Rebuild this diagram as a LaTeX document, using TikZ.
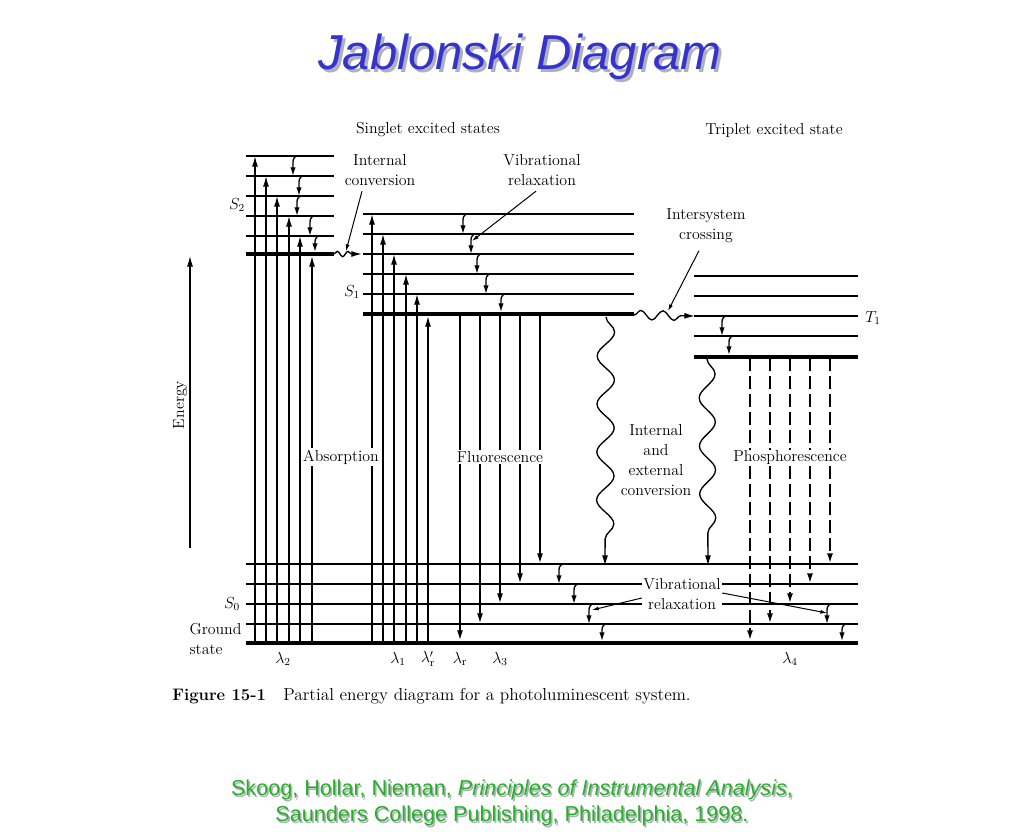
\documentclass[tikz,border=0pt]{standalone}
\usepackage{fontspec}
\usepackage{tikz}
\usetikzlibrary{arrows.meta,decorations.pathmorphing}
\newfontfamily\slidefont{Liberation Sans}
\definecolor{titleblue}{RGB}{52,52,204}
\definecolor{refgreen}{RGB}{38,176,38}
\definecolor{shadowgray}{RGB}{175,175,190}

\begin{document}
\begin{tikzpicture}[x=0.75pt,y=-0.75pt,>={Latex[length=8pt,width=4.5pt]},
    vlevel/.style={line width=1.1pt},
    baselevel/.style={line width=3.4pt},
    absorb/.style={->,line width=1pt},
    fluor/.style={->,line width=1.5pt},
    phos/.style={->,line width=1.6pt,dash pattern=on 9.5pt off 4pt},
    relax/.style={-{Latex[length=6.5pt,width=4pt]},line width=1pt},
    pointer/.style={-{Latex[length=5pt,width=3pt]},line width=0.75pt},
    wave/.style={->,line width=1pt,decorate,decoration={snake,amplitude=#1,segment length=36pt,post length=9pt}},
    txt/.style={font=\fontsize{11.9}{15}\selectfont,inner sep=1pt}]
    \useasboundingbox (0,0) rectangle (1024,834);
    % title and reference
    \node [font=\slidefont\itshape\fontsize{36.8}{40}\selectfont, text=shadowgray] (titleShadow) at (523,60) {Jablonski Diagram};
    \node [font=\slidefont\itshape\fontsize{36.8}{40}\selectfont, text=titleblue] (title) at (520,57) {Jablonski Diagram};
    \node [font=\slidefont\fontsize{16.2}{19.5}\selectfont, text=shadowgray, align=center] (citeShadow) at (513.5,804.5) {Skoog, Hollar, Nieman, \textit{Principles of Instrumental Analysis},\\Saunders College Publishing, Philadelphia, 1998.};
    \node [font=\slidefont\fontsize{16.2}{19.5}\selectfont, text=refgreen, align=center] (cite) at (512,803) {Skoog, Hollar, Nieman, \textit{Principles of Instrumental Analysis},\\Saunders College Publishing, Philadelphia, 1998.};
    % S2 levels
    \foreach \y in {156,176,196,216,236}
        \draw [vlevel] (246,\y) -- (334,\y);
    \draw [baselevel] (246,254) -- (334,254);
    % S1 levels
    \foreach \y in {214,234,254,274,294}
        \draw [vlevel] (363,\y) -- (634,\y);
    \draw [baselevel] (363,314) -- (634,314);
    % T1 levels
    \foreach \y in {276,296,316,336}
        \draw [vlevel] (694,\y) -- (858,\y);
    \draw [baselevel] (694,357) -- (858,357);
    % S0 levels
    \foreach \y in {564,584,604,624}
        \draw [vlevel] (246,\y) -- (858,\y);
    \draw [baselevel] (246,643) -- (858,643);
    %
    \draw [->, line width=0.8pt] (190,548) -- (190,256);
    % absorption
    \foreach \x/\y in {255/156,266/176,277/196,289/216,300/236,312/256,372/214,383/234,394/254,406/274,417/294,428/316}
        \draw [absorb] (\x,643) -- (\x,\y);
    % fluorescence and phosphorescence
    \foreach \x/\y in {460/641,480/624,500/604,520/584,540/564}
        \draw [fluor] (\x,315) -- (\x,\y);
    \foreach \x/\y in {750/641,770/624,790/604,810/584,830/564}
        \draw [phos] (\x,358) -- (\x,\y);
    % vibrational relaxation
    \foreach \x/\a/\b in {293/156/176,299/176/196,297/196/216,310/216/236,315/236/252,
        463/214/234,471/234/254,477/254/274,486/274/294,501/294/312,
        722/316/336,729/336/355,
        559/564/584,574/584/604,589/604/624,602/624/641,827/604/624,842/624/641}
        \draw [relax] (\x+3,\a) .. controls (\x,\a+3) .. (\x,\a+9) -- (\x,\b);
    % internal conversion, intersystem crossing
    \draw [->, line width=1pt, decorate, decoration={snake,amplitude=2pt,segment length=8pt,post length=6pt}] (334,254) -- (362,254);
    \draw [->, line width=1pt, decorate, decoration={snake,amplitude=3.5pt,segment length=16.5pt,post length=10pt}] (634,315) -- (695,316);
    \draw [wave=6.5pt] (606,317) -- (605,566);
    \draw [wave=6pt] (707,359) -- (708,566);
    % labels
    \node [txt] (singlet) at (428,130) {Singlet excited states};
    \node [txt] (triplet) at (774,131) {Triplet excited state};
    \node [txt, align=center] (icLabel) at (380,170) {Internal\\conversion};
    \node [txt, align=center] (vrLabel) at (542,170) {Vibrational\\relaxation};
    \node [txt, align=center] (iscLabel) at (706,226) {Intersystem\\crossing};
    \node [txt] (sTwo) at (237,205) {$S_2$};
    \node [txt] (sOne) at (352,292) {$S_1$};
    \node [txt] (tOne) at (873,318) {$T_1$};
    \node [txt] (sZero) at (232,604) {$S_0$};
    \node [txt, align=left, anchor=west] (ground) at (188,639) {Ground\\state};
    \node [txt, rotate=90] (energy) at (180,405) {Energy};
    \node [txt, fill=white] (absorption) at (341,457) {Absorption};
    \node [txt, fill=white] (fluorescence) at (500,457) {Fluorescence};
    \node [txt, fill=white] (phosphorescence) at (790,458) {Phosphorescence};
    \node [txt, align=center] (conversion) at (656,460) {Internal\\and\\external\\conversion};
    \node [txt, align=center, fill=white] (vibLabel) at (682,594) {Vibrational\\relaxation};
    \node [txt] (lamTwo) at (283,659) {$\lambda_2$};
    \node [txt] (lamOne) at (398,659) {$\lambda_1$};
    \node [txt] (lamRp) at (428,659) {$\lambda'_{\mathrm{r}}$};
    \node [txt] (lamR) at (460,659) {$\lambda_{\mathrm{r}}$};
    \node [txt] (lamThree) at (500,659) {$\lambda_3$};
    \node [txt] (lamFour) at (790,659) {$\lambda_4$};
    % pointers
    \coordinate (icTip) at (346,251);
    \coordinate (vrTip) at (472,241);
    \coordinate (iscTip) at (668,311);
    \coordinate (vibTipL) at (592,610);
    \coordinate (vibTipR) at (827,613);
    \draw [pointer] ([shift={(-18,4)}]icLabel.south) -- (icTip);
    \draw [pointer] ([shift={(-6,4)}]vrLabel.south) -- (vrTip);
    \draw [pointer] ([shift={(-7,6)}]iscLabel.south) -- (iscTip);
    \draw [pointer] ([shift={(0,4)}]vibLabel.west) -- (vibTipL);
    \draw [pointer] ([shift={(0,-1)}]vibLabel.east) -- (vibTipR);
    % caption
    \node [anchor=base west, inner sep=0pt, font=\fontsize{12.5}{15}\selectfont] (caption) at (172,700) {\textbf{Figure 15-1}\hspace{13pt}{\fontsize{13}{15}\selectfont Partial energy diagram for a photoluminescent system.}};
\end{tikzpicture}
\end{document}
